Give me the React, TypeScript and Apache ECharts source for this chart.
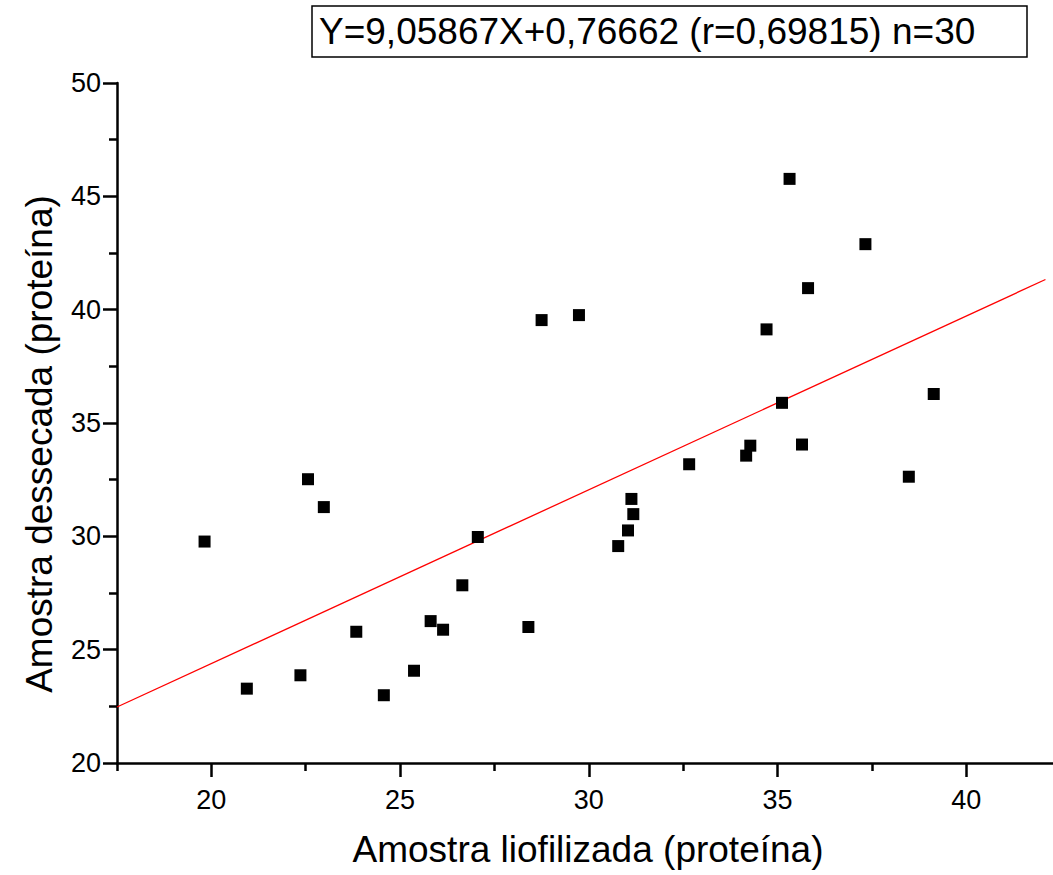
import React, { useEffect, useRef } from "react";
import * as echarts from "echarts";

const xValues = [
  19.82, 20.94, 22.36, 22.56, 22.98, 23.84, 24.57, 25.37, 25.81, 26.14,
  26.65, 27.06, 28.4, 28.75, 29.74, 30.78, 31.04, 31.13, 31.18, 32.66,
  34.17, 34.28, 34.71, 35.12, 35.32, 35.65, 35.81, 37.33, 38.48, 39.14,
];
const yValues = [
  29.77, 23.28, 23.87, 32.52, 31.29, 25.79, 22.99, 24.07, 26.26, 25.88,
  27.84, 29.97, 26.0, 39.54, 39.76, 29.57, 30.26, 31.65, 30.98, 33.18,
  33.56, 34.0, 39.13, 35.89, 45.77, 34.05, 40.95, 42.89, 32.63, 36.28,
];
const fitX = [17.5, 42.1];
const fitY = [22.47, 41.33];
const xMajorTicks = [20, 25, 30, 35, 40];
const xMinorTicks = [17.5, 22.5, 27.5, 32.5, 37.5];
const titleText = "Y=9,05867X+0,76662 (r=0,69815) n=30";
const xName = "Amostra liofilizada (proteína)";
const yName = "Amostra dessecada (proteína)";

const FONT = "'Liberation Sans', Arial, sans-serif";

export default function App() {
  const ref = useRef<HTMLDivElement>(null);
  useEffect(() => {
    document.body.style.margin = "0";
    const chart = echarts.init(ref.current!, null, { renderer: "svg" });
    const points = xValues.map((x, i) => [x, yValues[i]]);
    const fit = fitX.map((x, i) => [x, fitY[i]]);
    chart.setOption({
      animation: false,
      backgroundColor: "#fff",
      title: {
        text: titleText,
        left: 312,
        top: 6,
        borderColor: "#000",
        borderWidth: 1.5,
        padding: [5, 52, 5, 7],
        textStyle: {
          fontFamily: FONT,
          fontSize: 37,
          fontWeight: "normal",
          color: "#000",
          lineHeight: 41,
        },
      },
      grid: { left: 117, right: 0, top: 83, bottom: 112, containLabel: false },
      xAxis: [
        {
          type: "value",
          min: 17.5,
          max: 42.3,
          position: "bottom",
          name: xName,
          nameLocation: "middle",
          nameGap: 68,
          nameTextStyle: { fontFamily: FONT, fontSize: 37, color: "#000", padding: [0, 0, 0, 6] },
          axisLine: { show: true, onZero: false, lineStyle: { color: "#000", width: 2.5 } },
          axisTick: {
            show: true,
            inside: false,
            length: 14,
            customValues: xMajorTicks,
            lineStyle: { color: "#000", width: 2.5 },
          },
          axisLabel: {
            show: true,
            customValues: xMajorTicks,
            margin: 23,
            fontFamily: FONT,
            fontSize: 27,
            color: "#000",
          },
          splitLine: { show: false },
        },
        {
          type: "value",
          min: 17.5,
          max: 42.3,
          position: "bottom",
          axisLine: { show: false, onZero: false },
          axisTick: {
            show: true,
            inside: false,
            length: 8,
            customValues: xMinorTicks,
            lineStyle: { color: "#000", width: 2.5 },
          },
          axisLabel: { show: false },
          splitLine: { show: false },
        },
      ],
      yAxis: {
        type: "value",
        min: 20,
        max: 50,
        interval: 5,
        name: yName,
        nameLocation: "middle",
        nameGap: 59,
        nameTextStyle: { fontFamily: FONT, fontSize: 37, color: "#000", padding: [0, 42, 0, 0] },
        axisLine: { show: true, onZero: false, lineStyle: { color: "#000", width: 2.5 } },
        axisTick: { show: true, inside: false, length: 14, lineStyle: { color: "#000", width: 2.5 } },
        minorTick: { show: true, splitNumber: 2, length: 8, lineStyle: { color: "#000", width: 2.5 } },
        axisLabel: { margin: 16, fontFamily: FONT, fontSize: 27, color: "#000" },
        splitLine: { show: false },
        minorSplitLine: { show: false },
      },
      series: [
        {
          type: "line",
          data: fit,
          xAxisIndex: 0,
          showSymbol: false,
          symbol: "none",
          lineStyle: { color: "#ff0000", width: 1.3 },
          z: 2,
        },
        {
          type: "scatter",
          data: points,
          xAxisIndex: 0,
          symbol: "rect",
          symbolSize: 12,
          itemStyle: { color: "#000", opacity: 1 },
          z: 3,
        },
      ],
    });
    return () => chart.dispose();
  }, []);
  return <div ref={ref} style={{ width: 1053, height: 875 }} />;
}
